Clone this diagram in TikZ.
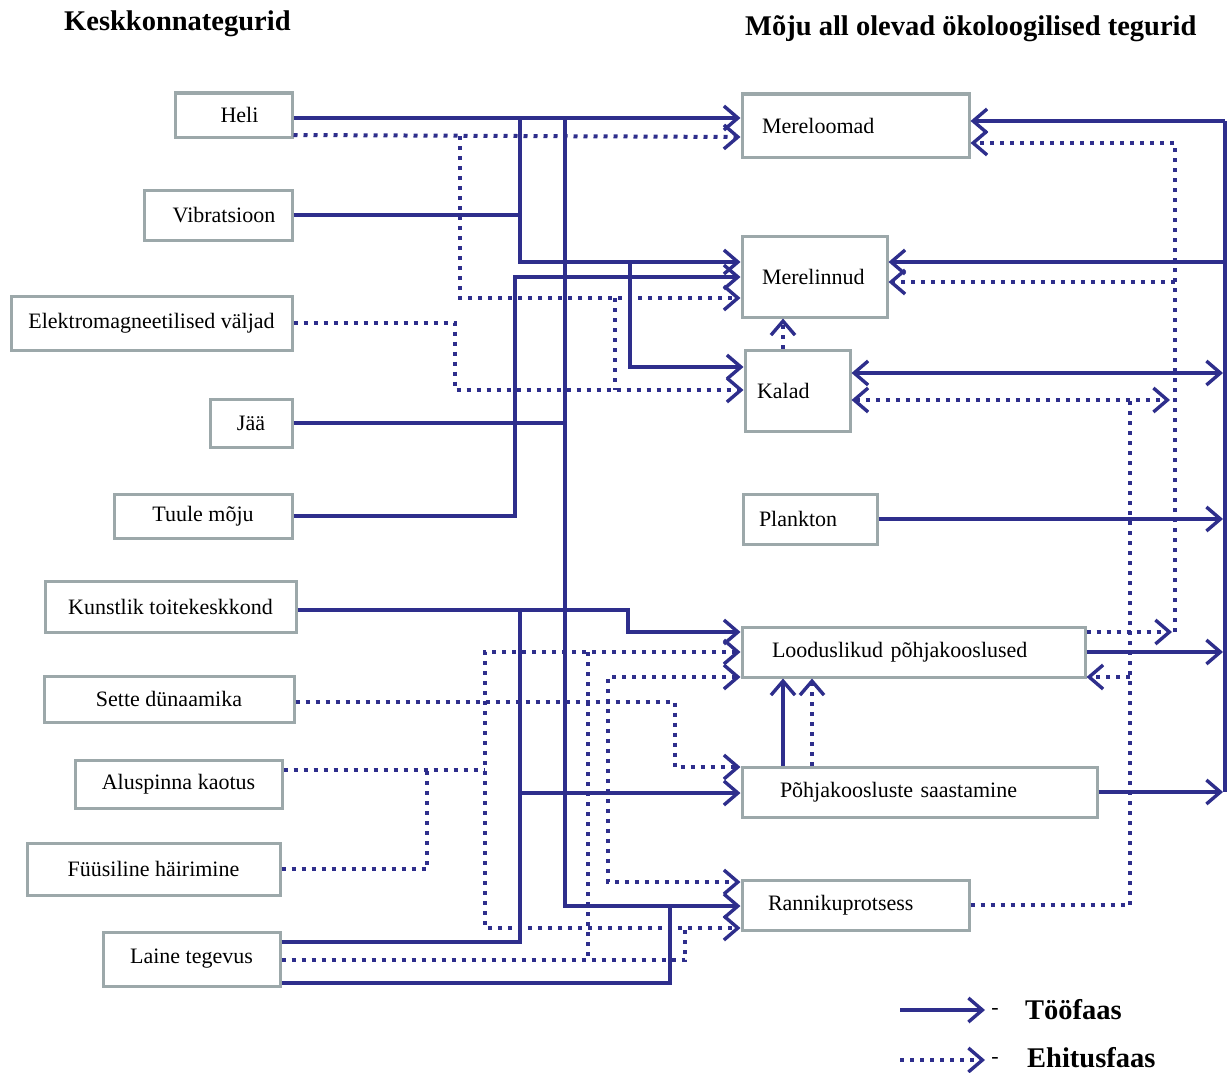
\documentclass[tikz,border=0pt]{standalone}
\usepackage{fontspec}
\setmainfont{Liberation Serif}
\usetikzlibrary{arrows.meta,positioning}
\definecolor{linkblue}{RGB}{46,46,140}
\definecolor{boxgrey}{RGB}{156,168,170}
\newcommand{\boxfont}{\fontsize{22}{26}\selectfont}
\newcommand{\headfont}{\fontsize{28.5}{32}\selectfont\bfseries}
\tikzset{
	tip/.tip={Straight Barb[length=14pt,width=24pt,line width=3.4pt]},
	lbox/.style 2 args={draw=boxgrey, line width=3pt, fill=white, font=\boxfont,
		minimum width=#1, minimum height=#2, inner sep=2pt},
	rbox/.style n args={3}{draw=boxgrey, line width=3pt, fill=white, font=\boxfont,
		align=left, text width=#1, inner xsep=#2, inner ysep=2pt, minimum height=#3},
	op/.style={draw=linkblue, line width=3.3pt, line join=miter},
	con/.style={draw=linkblue, line width=4pt, dash pattern=on 4pt off 6pt},
	head/.style={font=\headfont, inner sep=0pt},
}
\begin{document}
\begin{tikzpicture}[x=1pt,y=-1pt]
	\useasboundingbox (0,0) rectangle (1232,1073);
	\node[head, anchor=base west] (kesk) at (64,31) {Keskkonnategurid};
	\node[head, anchor=base west] (moju) at (745,36) {Mõju all olevad ökoloogilised tegurid};
	% keskkonnategurid
	\node[lbox={117pt}{44pt}] (heli) at (233.5,115) {\hspace{12pt}Heli};
	\node[lbox={148pt}{50pt}] (vib) at (218,215) {\hspace{12pt}Vibratsioon};
	\node[lbox={281pt}{54pt}] (elm) at (151.5,323) {Elektromagneetilised väljad};
	\node[lbox={82pt}{48pt}] (jaa) at (251,423) {Jää};
	\node[lbox={178pt}{44pt}] (tuul) at (203,516) {Tuule mõju};
	\node[lbox={251pt}{51pt}] (kunst) at (170.5,606.5) {Kunstlik toitekeskkond};
	\node[lbox={250pt}{46pt}] (sette) at (169,699) {Sette dünaamika};
	\node[lbox={207pt}{48pt}] (alus) at (178.5,784) {Aluspinna kaotus};
	\node[lbox={253pt}{52pt}] (fyys) at (153.5,869) {Füüsiline häirimine};
	\node[lbox={177pt}{54pt}] (laine) at (191.5,959) {Laine tegevus};
	% okoloogilised tegurid
	\node[rbox={187pt}{20pt}{63pt}] (merel) at (855.5,125.5) {Mereloomad};
	\node[rbox={105pt}{20pt}{81pt}] (lind) at (814.5,276.5) {Merelinnud};
	\node[rbox={81pt}{12pt}{81pt}] (kalad) at (797.5,390.5) {Kalad};
	\node[rbox={102pt}{16pt}{50pt}] (plank) at (810,519) {Plankton};
	\node[rbox={283pt}{30pt}{50pt}] (lood) at (913.5,652) {Looduslikud põhjakooslused};
	\node[rbox={279pt}{38pt}{50pt}] (saast) at (919.5,792) {Põhjakoosluste saastamine};
	\node[rbox={175pt}{26pt}{50pt}] (rann) at (855.5,905) {Rannikuprotsess};
	% toofaas
	\draw[op,-tip] (heli.east |- 0,118) -- (merel.west |- 0,118);
	\draw[op] (vib.east) -- (520,215);
	\draw[op,-tip] (520,118) |- (lind.west |- 0,262);
	\draw[op,-tip] (630,262) |- (kalad.west |- 0,367);
	\draw[op] (jaa.east) -- (565,423);
	\draw[op,-tip] (565,118) |- (rann.west |- 0,906);
	\draw[op,-tip] (tuul.east) -| (515,277) -- (lind.west |- 0,277);
	\draw[op,-tip] (kunst.east |- 0,610) -- (628,610) |- (lood.west |- 0,632);
	\draw[op] (laine.east |- 0,942) -| (520,610);
	\draw[op,-tip] (520,793) -- (saast.west |- 0,793);
	\draw[op] (laine.east |- 0,983) -| (670,906);
	\draw[op,-tip] (saast.north -| 783,0) -- (lood.south -| 783,0);
	\draw[op] (1225,121) -- (1225,792);
	\draw[op,-tip] (1225,121) -- (merel.east |- 0,121);
	\draw[op,-tip] (1225,262) -- (lind.east |- 0,262);
	\draw[op,tip-tip] (kalad.east |- 0,373) -- (1223,373);
	\draw[op,-tip] (plank.east) -- (1223,519);
	\draw[op,-tip] (lood.east) -- (1223,652);
	\draw[op,-tip] (saast.east) -- (1223,792);
	% ehitusfaas
	\draw[con,-tip] (heli.east |- 0,135) -- (merel.west |- 0,137);
	\draw[con,-tip] (460,136) |- (lind.west |- 0,298);
	\draw[con,-tip] (elm.east) -| (455,390) -- (kalad.west |- 0,390);
	\draw[con] (615,298) -- (615,390);
	\draw[con,-tip] (kalad.north -| 783,0) -- (lind.south -| 783,0);
	\draw[con,-tip] (sette.east |- 0,702) -| (675,767) -- (saast.west |- 0,767);
	\draw[con] (alus.east |- 0,770) -- (485,770);
	\draw[con] (fyys.east) -| (427,770);
	\draw[con,tip-tip] (lood.west |- 0,652) -| (485,928) -- (rann.west |- 0,928);
	\draw[con,tip-tip] (lood.west |- 0,677) -| (608,882) -- (rann.west |- 0,882);
	\draw[con] (laine.east |- 0,960) -| (685,928);
	\draw[con] (588,652) -- (588,960);
	\draw[con,-tip] (saast.north -| 812,0) -- (lood.south -| 812,0);
	\draw[con,-tip] (lood.east |- 0,632) -- (1172,632);
	\draw[con,-tip] (1175,632) |- (merel.east |- 0,143);
	\draw[con,-tip] (1175,282) -- (lind.east |- 0,282);
	\draw[con,tip-tip] (kalad.east |- 0,400) -- (1170,400);
	\draw[con] (rann.east) -| (1130,400);
	\draw[con,-tip] (1130,677) -- (lood.east |- 0,677);
	% legend
	\node[head, anchor=base west] (too) at (1025,1019) {Tööfaas};
	\node[head, anchor=base west] (ehit) at (1027,1067) {Ehitusfaas};
	\node[font=\boxfont] (d1) at (995,1011) {-};
	\node[font=\boxfont] (d2) at (995,1060) {-};
	\draw[op,-tip] (900,1010) -- (985,1010);
	\draw[con,-tip] (900,1060) -- (985,1060);
\end{tikzpicture}
\end{document}
